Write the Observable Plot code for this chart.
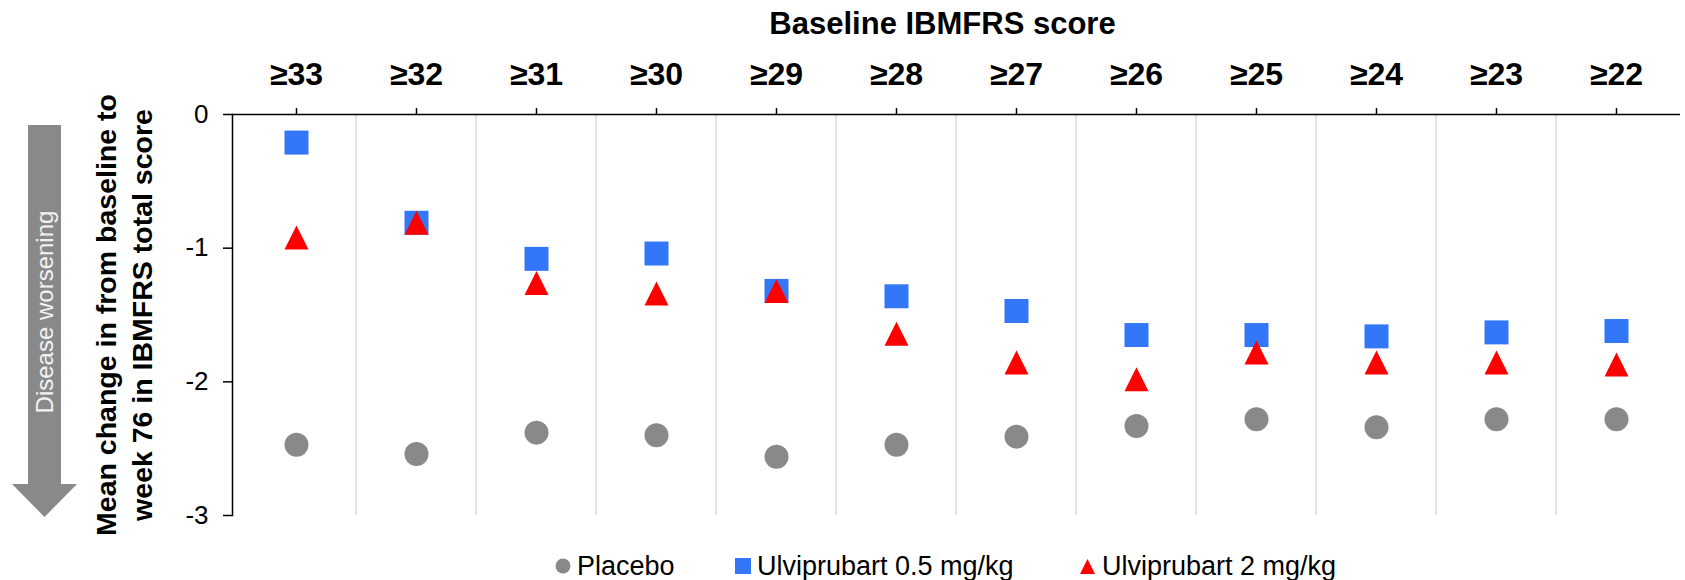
<!DOCTYPE html>
<html>
<head>
<meta charset="utf-8">
<script src="https://cdn.jsdelivr.net/npm/d3@7"></script>
<script src="https://cdn.jsdelivr.net/npm/@observablehq/plot@0.6"></script>
<style>
  html, body { margin: 0; padding: 0; background: #fff; }
  #wrap { position: relative; width: 1685px; font-family: "Liberation Sans", Arial, sans-serif; }
  #legend { position: relative; width: 1685px; height: 40px; font-size: 27px; color: #000; }
  #legend svg { position: absolute; }
  #legend span { position: absolute; top: 11px; line-height: 30px; white-space: nowrap; }
</style>
</head>
<body>
<div id="wrap"></div>
<script>
// ---- data ----
const categories = ["≥33","≥32","≥31","≥30","≥29","≥28","≥27","≥26","≥25","≥24","≥23","≥22"];
const placebo = [-2.47,-2.54,-2.38,-2.40,-2.56,-2.47,-2.41,-2.33,-2.28,-2.34,-2.28,-2.28];
const ulvi05  = [-0.21,-0.81,-1.08,-1.04,-1.32,-1.36,-1.47,-1.65,-1.65,-1.66,-1.63,-1.62];
const ulvi2   = [-0.92,-0.81,-1.26,-1.34,-1.32,-1.64,-1.855,-1.98,-1.78,-1.855,-1.855,-1.87];
const seriesNames = ["Placebo", "Ulviprubart 0.5 mg/kg", "Ulviprubart 2 mg/kg"];
const yTicks = [0, -1, -2, -3];
const xTitle = "Baseline IBMFRS score";
const yTitle = "Mean change in from baseline to\nweek 76 in IBMFRS total score";
const arrowLabel = "Disease worsening";

// ---- styles ----
const colors = ["#898989", "#3476F8", "#FF0000"];
const half = (size) => Math.sqrt(size / Math.PI);
const symCircle = { draw(ctx, size) { const h = half(size); ctx.moveTo(h, 0); ctx.arc(0, 0, h, 0, 2 * Math.PI); ctx.closePath(); } };
const symSquare = { draw(ctx, size) { const h = half(size); ctx.moveTo(-h, -h); ctx.lineTo(h, -h); ctx.lineTo(h, h); ctx.lineTo(-h, h); ctx.closePath(); } };
const symTriangle = { draw(ctx, size) { const h = half(size); ctx.moveTo(0, -h); ctx.lineTo(h, h); ctx.lineTo(-h, h); ctx.closePath(); } };

const mk = (vals) => categories.map((c, i) => ({ cat: c, value: vals[i] }));

const W = 1685, H = 540, mL = 232, mR = 5, mT = 114, mB = 25;
const bw = (W - mL - mR) / categories.length;

const chart = Plot.plot({
  width: W, height: H,
  marginTop: mT, marginBottom: mB, marginLeft: mL, marginRight: mR,
  style: { fontFamily: "Liberation Sans, Arial, sans-serif", color: "#000", background: "#fff", overflow: "visible" },
  x: { type: "band", domain: categories, padding: 0, axis: null },
  y: { domain: [-3, 0], axis: null },
  marks: [
    Plot.ruleX(categories.slice(1), { x: d => d, dx: -bw / 2, y1: 0, y2: -3, stroke: "#d9d9d9", strokeWidth: 1.5 }),
    Plot.ruleY([0], { stroke: "#000", strokeWidth: 1.5 }),
    Plot.frame({ anchor: "left", stroke: "#000", strokeWidth: 1.5 }),
    Plot.axisX({ anchor: "top", label: null, tickSize: 7, tickPadding: 23, fontSize: 32, fontWeight: "bold", strokeWidth: 1.5 }),
    Plot.axisY({ ticks: yTicks, tickFormat: d => String(d), label: null, tickSize: 9, tickPadding: 15, fontSize: 26, strokeWidth: 1.5 }),
    Plot.dot(mk(placebo), { x: "cat", y: "value", r: 12, symbol: symCircle, fill: colors[0], stroke: null }),
    Plot.dot(mk(ulvi05), { x: "cat", y: "value", r: 12, symbol: symSquare, fill: colors[1], stroke: null }),
    Plot.dot(mk(ulvi2), { x: "cat", y: "value", r: 12, symbol: symTriangle, fill: colors[2], stroke: null }),
    Plot.text([xTitle], { frameAnchor: "top", dx: -14, dy: -103, fontSize: 31, fontWeight: "bold", fill: "#000" }),
    Plot.text([yTitle], { frameAnchor: "left", textAnchor: "middle", dx: -110, rotate: -90, fontSize: 28.5, fontWeight: "bold", lineHeight: 1.27, fill: "#000" })
  ]
});

// decorative "Disease worsening" arrow
const svg = d3.select(chart);
svg.append("path")
  .attr("d", "M28,125 L61,125 L61,484 L77,484 L44.5,517 L12,484 L28,484 Z")
  .attr("fill", "#898989");
svg.append("text")
  .attr("transform", "translate(45,312) rotate(-90)")
  .attr("text-anchor", "middle")
  .attr("dy", "0.35em")
  .attr("font-size", 24)
  .attr("fill", "#f2f2f2")
  .text(arrowLabel);

document.getElementById("wrap").appendChild(chart);

// legend
const legend = document.createElement("div");
legend.id = "legend";
const items = [
  { marker: 555, text: 577, sym: "circle" },
  { marker: 735, text: 757, sym: "square" },
  { marker: 1080, text: 1102, sym: "triangle" }
];
items.forEach((it, i) => {
  const s = d3.create("svg").attr("width", 16).attr("height", 16)
    .style("left", it.marker + "px").style("top", "18px");
  if (it.sym === "circle") s.append("circle").attr("cx", 8).attr("cy", 8).attr("r", 7.5).attr("fill", colors[i]);
  else if (it.sym === "square") s.append("rect").attr("width", 16).attr("height", 16).attr("fill", colors[i]);
  else s.append("path").attr("d", "M7.5,1 L15,16 L0,16 Z").attr("fill", colors[i]);
  legend.appendChild(s.node());
  const t = document.createElement("span");
  t.style.left = it.text + "px";
  t.textContent = seriesNames[i];
  legend.appendChild(t);
});
document.getElementById("wrap").appendChild(legend);
</script>
</body>
</html>
